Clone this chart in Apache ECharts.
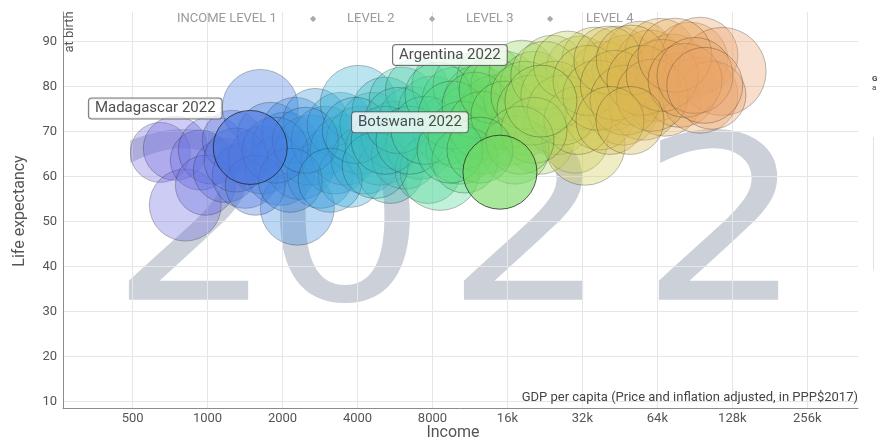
<!DOCTYPE html>
<html>
<head>
<meta charset="utf-8">
<script src="https://cdn.jsdelivr.net/npm/echarts/dist/echarts.min.js"></script>
<style>html,body{margin:0;padding:0;background:#fff}#c{width:880px;height:439px}</style>
</head>
<body>
<div id="c"></div>
<script>
// ---- data ----
const year = '2022';
const gdp = [646,742,814,935,1045,980,1178,1256,1628,1417,1658,1785,1958,2050,2294,2250,2356,2583,2705,2834,2968,3250,3408,3570,3740,
  4030,4100,4300,4610,4935,5170,5410,5660,6040,6220,6660,6960,7135,7680,7990,8580,8980,9170,9850,10320,10800,11320,12190,13000,13610,14260,
  15640,16380,17620,18320,19170,20460,21600,23240,24150,25500,28500,29900,31300,32800,34300,35900,37600,39400,42100,44300,46600,48300,51400,
  54500,56300,59800,62600,65600,68700,73200,78900,86500,94900,94900,116500,106000,
  1300,1555,1870,2148,2470,3107,3920,4710,5170,5810,6500,7470,8420,9600,10510,11860,12700,13880,15640,17150,18820,20080,22600,24800,26600,
  27900,30700,33700,36900,40500,43400,47500,50300,55500,61000,67000,75300,82700,90600,99200,10800,9410,20460,17960,12410,41300,49700];
const lifeExp = [65.3,66.2,53.6,63.6,65.8,58.0,61.3,68.0,75.3,60.2,63.6,69.1,61.3,66.9,52.9,70.2,62.4,65.8,72.4,60.2,68.0,63.6,71.3,65.8,60.2,
  76.2,68.0,63.6,71.3,65.8,74.7,61.3,69.1,76.9,64.7,72.4,79.1,66.9,61.3,74.7,61.3,80.2,70.2,76.9,65.8,80.2,72.4,77.1,68.0,81.8,74.7,
  80.2,70.2,76.9,82.9,72.4,80.2,68.0,76.9,84.0,72.4,75.8,68.0,83.6,66.9,78.0,85.8,73.6,82.4,78.0,85.8,74.7,83.6,79.1,
  86.9,75.8,84.7,80.2,87.3,76.9,83.6,79.1,85.8,86.9,78.0,83.3,78.0,
  63.6,58.0,65.8,59.1,68.0,59.1,70.2,62.4,68.0,72.4,68.0,70.2,78.0,73.6,69.1,75.8,71.3,79.1,73.6,65.8,78.0,74.7,82.4,78.0,74.7,
  84.7,72.4,81.3,78.0,85.8,80.2,76.9,85.8,81.3,78.0,82.4,86.9,81.3,82.4,80.2,63.6,65.8,70.2,68.0,65.8,72.4,72.4];
const sizeValue = [2,3,5,2,4,2,3,2,6,3.5,4,3.5,4.5,3.5,5.5,3.5,4,4.5,3,3.5,4,4,3.5,4.5,3,
  6,4,4,3.5,4.5,3.5,3.5,4,3.5,4,4,3,4,3.5,4,7,3.5,4,3.5,4,3,4.5,4,4,3.5,4.5,
  4,4.5,4,3.5,4.5,4,4,4.5,3.5,4,4.5,3.5,4,7,4.5,3.5,4.5,4,4.5,4,4.5,4.5,4.5,
  4,4.5,4.5,5,4.5,5,5,5.5,6,6,6,9,4,
  3,2,3.5,3,3.5,3,3.5,3.5,4,3.5,4,4,3.5,4,4,3.5,4,3.5,4,4,4,4.5,4,4,4.5,
  4,4,4.5,4.5,4,4.5,4.5,4.5,4.5,5,5,5.5,5.5,6,6,3.5,3.5,3.5,4,3.5,4,4];
const hlCountry = ['Madagascar','Botswana','Argentina'];
const hlGdp = [1484,14930,21800];
const hlLife = [66.4,60.9,76.7];
const hlSize = [5.5,5.5,5];
const xTickValues = [500,1000,2000,4000,8000,16000,32000,64000,128000,256000];
const xTickLabels = ['500','1000','2000','4000','8000','16k','32k','64k','128k','256k'];
const yTickValues = [10,20,30,40,50,60,70,80,90];
const incomeLevels = ['INCOME LEVEL 1','LEVEL 2','LEVEL 3','LEVEL 4'];
const xTitle = 'Income';
const xSubtitle = 'GDP per capita (Price and inflation adjusted, in PPP$2017)';
const yTitle = 'Life expectancy';
const ySubtitle = 'at birth';

// ---- build ----
const L2 = Math.log2;
const FONT = 'Roboto, "Noto Sans", sans-serif';
const radius = v => 26 + 2 * v;
const strongIdx = [0, 1];   // bubbles drawn emphasised (selected countries)
const mainData = gdp.map((g, i) => [L2(g), lifeExp[i], sizeValue[i]]);
const strongData = [];
hlCountry.forEach((n, i) => {
  const v = [L2(hlGdp[i]), hlLife[i], hlSize[i]];
  if (strongIdx.includes(i)) strongData.push({ name: n, value: v });
  else mainData.push(v);
});
const labelOffsets = [[-95, -39], [-90, -50], [-91, -46]];
const labelData = hlCountry.map((n, i) => ({
  name: n,
  value: [L2(hlGdp[i]), hlLife[i]],
  label: { offset: labelOffsets[i] }
}));

const palette = ['#7b6ee0', '#6a6ee0', '#4a78e0', '#3e90e0', '#3aaed8', '#40c4b8', '#50d890', '#66d860', '#a8d860', '#d0cc58', '#dcb850', '#e8a860', '#eca070'];

const wmX = [192, 345, 527, 722];
const graphic = [];
year.split('').forEach((d, i) => graphic.push({
  type: 'text', x: wmX[i], y: 240, z: 0, silent: true, scaleX: 1.12,
  style: { text: d, fill: '#cbd0d9', font: '230px "DejaVu Sans"', textAlign: 'center', textVerticalAlign: 'middle' }
}));
graphic.push(
  { type: 'text', x: 20, y: 211, rotation: Math.PI / 2, z: 50,
    style: { text: yTitle, fill: '#555', font: '16px ' + FONT, textAlign: 'center', textVerticalAlign: 'middle' } },
  { type: 'text', x: 70, y: 32, rotation: Math.PI / 2, z: 50,
    style: { text: ySubtitle, fill: '#555', font: '13px ' + FONT, textAlign: 'center', textVerticalAlign: 'middle' } },
  { type: 'text', x: 453, y: 433, z: 50,
    style: { text: xTitle, fill: '#555', font: '16px ' + FONT, textAlign: 'center', textVerticalAlign: 'middle' } },
  { type: 'text', x: 858, y: 398, z: 50,
    style: { text: xSubtitle, fill: '#444', font: '13px ' + FONT, textAlign: 'right', textVerticalAlign: 'middle' } },
  { type: 'text', x: 872, y: 79, z: 50, style: { text: 'G', fill: '#444', font: 'bold 8px ' + FONT, textAlign: 'left', textVerticalAlign: 'middle' } },
  { type: 'text', x: 872, y: 88, z: 50, style: { text: 'a', fill: '#444', font: '8px ' + FONT, textAlign: 'left', textVerticalAlign: 'middle' } },
  { type: 'line', z: 50, shape: { x1: 873.5, y1: 137, x2: 873.5, y2: 270 }, style: { stroke: '#e2e2e2', lineWidth: 1 } }
);
const lvlX = [177, 347, 466, 586];
const dotX = [313, 432, 550];
incomeLevels.forEach((t, i) => graphic.push({
  type: 'text', x: lvlX[i], y: 19, z: 50,
  style: { text: t, fill: '#9a9a9a', font: '13px ' + FONT, textAlign: 'left', textVerticalAlign: 'middle' }
}));
dotX.forEach(x => graphic.push({
  type: 'text', x: x, y: 19, z: 50,
  style: { text: '◆', fill: '#aaa', font: '8px "DejaVu Sans"', textAlign: 'center', textVerticalAlign: 'middle' }
}));

const chart = echarts.init(document.getElementById('c'), null, { renderer: 'canvas' });
chart.setOption({
  animation: false,
  backgroundColor: '#fff',
  grid: { left: 63, right: 22, top: 12, bottom: 31 },
  xAxis: {
    type: 'value', min: L2(500) - 69.6 / 74.97, max: L2(256000) + 50.7 / 74.97,
    axisLine: { show: true, lineStyle: { color: '#8c8c8c', width: 1 } },
    axisTick: { show: false, customValues: xTickValues.map(L2) },
    axisLabel: { customValues: xTickValues.map(L2), color: '#555', fontSize: 13, fontFamily: FONT, margin: 4,
      formatter: v => { const k = xTickValues.findIndex(t => Math.abs(L2(t) - v) < 1e-6); return k >= 0 ? xTickLabels[k] : ''; } },
    splitLine: { show: true, lineStyle: { color: '#e6e6e6', width: 1 } }
  },
  yAxis: {
    type: 'value', min: 8.5, max: 96.5,
    axisLine: { show: true, lineStyle: { color: '#8c8c8c', width: 1 } },
    axisTick: { show: false, customValues: yTickValues },
    axisLabel: { customValues: yTickValues, color: '#555', fontSize: 13, fontFamily: FONT, margin: 6 },
    splitLine: { show: true, lineStyle: { color: '#e6e6e6', width: 1 } }
  },
  visualMap: [
    { show: false, type: 'continuous', dimension: 0, min: 9.3, max: 16.9, seriesIndex: 0,
      inRange: { color: palette, colorAlpha: 0.44 } },
    { show: false, type: 'continuous', dimension: 0, min: 9.3, max: 16.9, seriesIndex: 1,
      inRange: { color: palette, colorAlpha: 0.78 } }
  ],
  graphic: graphic,
  series: [
    {
      type: 'scatter', z: 2, data: mainData,
      symbolSize: v => 2 * radius(v[2]),
      itemStyle: { borderColor: 'rgba(30,30,30,0.36)', borderWidth: 1 },
      emphasis: { disabled: true }, silent: true
    },
    {
      type: 'scatter', z: 3, data: strongData,
      symbolSize: v => 2 * radius(v[2]),
      itemStyle: { borderColor: 'rgba(20,20,20,0.85)', borderWidth: 1 },
      emphasis: { disabled: true }, silent: true
    },
    {
      type: 'scatter', z: 10, data: labelData, symbolSize: 1,
      itemStyle: { color: 'rgba(0,0,0,0)' },
      emphasis: { disabled: true }, silent: true,
      label: {
        show: true, position: 'inside', formatter: p => p.name + ' ' + year,
        backgroundColor: '#fff', borderColor: '#555', borderWidth: 1, borderRadius: 3,
        padding: [2, 6], fontSize: 15, lineHeight: 16, color: '#222', fontFamily: FONT
      }
    }
  ]
});
</script>
</body>
</html>
